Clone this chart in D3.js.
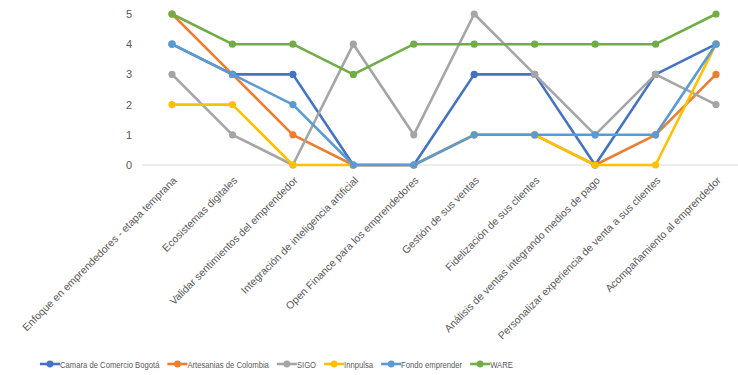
<!DOCTYPE html>
<html><head><meta charset="utf-8">
<script src="https://cdn.jsdelivr.net/npm/d3@7"></script>
<style>body{margin:0;background:#fff}svg{display:block}</style>
</head><body><svg id="c" width="738" height="375"></svg>
<script>
const categories = ["Enfoque en emprendedores - etapa temprana","Ecosistemas digitales","Validar sentimientos del emprendedor","Integración de inteligencia artificial","Open Finance para los emprendedores","Gestión de sus ventas","Fidelización de sus clientes","Análisis de ventas integrando medios de pago","Personalizar experiencia de venta a sus clientes","Acompañamiento al emprendedor"];
const seriesNames = ["Camara de Comercio Bogotá","Artesanias de Colombia","SIGO","Innpulsa","Fondo emprender","WARE"];
const camara = [4,3,3,0,0,3,3,0,3,4];
const artesanias = [5,3,1,0,0,1,1,0,1,3];
const sigo = [3,1,0,4,1,5,3,1,3,2];
const innpulsa = [2,2,0,0,0,1,1,0,0,4];
const fondo = [4,3,2,0,0,1,1,1,1,4];
const ware = [5,4,4,3,4,4,4,4,4,5];
const yTicks = [0,1,2,3,4,5];
const colors = ["#4472C4","#ED7D31","#A5A5A5","#FFC000","#5B9BD5","#70AD47"];
const allSeries = [camara,artesanias,sigo,innpulsa,fondo,ware];

const svg = d3.select("#c");
const font = "'Liberation Sans', Arial, sans-serif";
const x = d3.scalePoint().domain(categories).range([172,716]);
const y = d3.scaleLinear().domain([0,5]).range([165,14]);

svg.append("line").attr("x1",142).attr("x2",738).attr("y1",y(0)).attr("y2",y(0))
  .attr("stroke","#D9D9D9").attr("stroke-width",1);

const yAxis = svg.append("g").attr("transform","translate(132,0)")
  .call(d3.axisLeft(y).tickValues(yTicks).tickSize(0).tickPadding(0).tickFormat(d3.format("d")));
yAxis.select(".domain").remove();
yAxis.selectAll("text").attr("font-family",font).attr("font-size",11).attr("fill","#595959");

const xAxis = svg.append("g").attr("transform",`translate(0,${y(0)})`)
  .call(d3.axisBottom(x).tickSize(0).tickPadding(0));
xAxis.select(".domain").remove();
xAxis.selectAll("text")
  .attr("font-family",font).attr("font-size",10.5).attr("fill","#595959")
  .attr("text-anchor","end").attr("dy",0)
  .attr("transform","translate(5,16) rotate(-45)");

const line = d3.line().x((d,i)=>x(categories[i])).y(d=>y(d));
allSeries.forEach((s,k)=>{
  const g = svg.append("g");
  g.append("path").datum(s).attr("d",line).attr("fill","none")
    .attr("stroke",colors[k]).attr("stroke-width",2.6).attr("stroke-linejoin","round");
  g.selectAll("circle").data(s).join("circle")
    .attr("cx",(d,i)=>x(categories[i])).attr("cy",d=>y(d)).attr("r",3.6)
    .attr("fill",colors[k]);
});

// legend, laid out sequentially (glyphs condensed like the original's narrow font)
const lg = svg.append("g");
let lx = 40;
seriesNames.forEach((n,k)=>{
  const g = lg.append("g").attr("transform",`translate(${lx},364)`);
  g.append("line").attr("x1",0).attr("x2",20).attr("y1",0).attr("y2",0)
    .attr("stroke",colors[k]).attr("stroke-width",2.6);
  g.append("circle").attr("cx",10).attr("cy",0).attr("r",3.4).attr("fill",colors[k]);
  const t = g.append("text").attr("x",20).attr("y",3.5).text(n)
    .attr("font-family",font).attr("font-size",9.6).attr("fill","#595959");
  const w = t.node().getComputedTextLength() * 0.8;
  t.attr("textLength",w).attr("lengthAdjust","spacingAndGlyphs");
  lx += 20 + w + 8;
});
</script></body></html>
